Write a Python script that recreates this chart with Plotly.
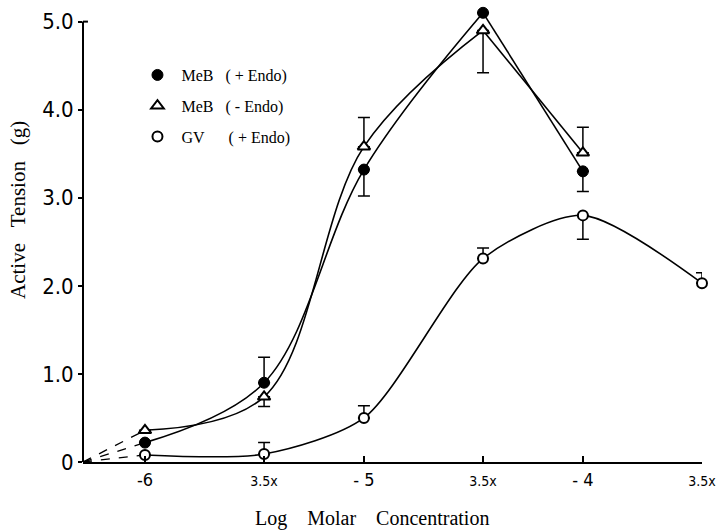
import plotly.graph_objects as go

# ---- data (log molar concentration) ----
x_vals = [-6.0, -5.456, -5.0, -4.456, -4.0, -3.456]
tick_text = ["-6", "<span style='font-size:14px'>3.5x</span>", "- 5",
             "<span style='font-size:14px'>3.5x</span>", "- 4",
             "<span style='font-size:14px'>3.5x</span>"]

meb_endo_pos = [0.22, 0.90, 3.32, 5.10, 3.30]
meb_endo_pos_up = [0, 0.29, 0, 0, 0]
meb_endo_pos_dn = [0, 0, 0.30, 0, 0.23]

meb_endo_neg = [0.36, 0.74, 3.58, 4.90, 3.51]
meb_endo_neg_up = [0, 0, 0.33, 0, 0.29]
meb_endo_neg_dn = [0, 0.11, 0, 0.48, 0]

gv_endo_pos = [0.08, 0.09, 0.50, 2.31, 2.80, 2.03]
gv_endo_pos_up = [0, 0.13, 0.14, 0.12, 0, 0.12]
gv_endo_pos_dn = [0, 0, 0, 0, 0.27, 0]

origin_x = -6.283
origin_y = 0.0

S = "\u00a0"
names = [S + "MeB" + S * 3 + "(" + S + "+" + S + "Endo)",
         S + "MeB" + S * 3 + "(" + S + "-" + S + "Endo)",
         S + "GV" + S * 6 + "(" + S + "+" + S + "Endo)"]

fig = go.Figure()
LW = 1.6

# dashed lines from origin
for ys in (meb_endo_pos, meb_endo_neg, gv_endo_pos):
    fig.add_trace(go.Scatter(x=[origin_x, x_vals[0]], y=[origin_y, ys[0]], mode="lines",
                             line=dict(color="black", width=1.3, dash="dash"),
                             showlegend=False, hoverinfo="skip"))

# smooth curves (cusp at peak for MeB series)
for ys in (meb_endo_pos, meb_endo_neg):
    fig.add_trace(go.Scatter(x=x_vals[:4], y=ys[:4], mode="lines",
                             line=dict(color="black", width=LW, shape="spline", smoothing=1.0),
                             showlegend=False, hoverinfo="skip"))
    fig.add_trace(go.Scatter(x=x_vals[3:5], y=ys[3:5], mode="lines",
                             line=dict(color="black", width=LW),
                             showlegend=False, hoverinfo="skip"))
fig.add_trace(go.Scatter(x=x_vals, y=gv_endo_pos, mode="lines",
                         line=dict(color="black", width=LW, shape="spline", smoothing=0.75),
                         showlegend=False, hoverinfo="skip"))

def eb(up, dn):
    return dict(type="data", symmetric=False, array=up, arrayminus=dn,
                color="black", thickness=1.5, width=6)

fig.add_trace(go.Scatter(x=x_vals[:5], y=meb_endo_pos, mode="markers", name=names[0],
                         legendgroup="a", cliponaxis=False,
                         marker=dict(symbol="circle", size=11, color="black",
                                     line=dict(color="black", width=1)),
                         error_y=eb(meb_endo_pos_up, meb_endo_pos_dn)))
fig.add_trace(go.Scatter(x=x_vals[:5], y=meb_endo_neg, mode="markers", name=names[1],
                         legendgroup="b", cliponaxis=False,
                         marker=dict(symbol="triangle-up", size=11, color="white",
                                     line=dict(color="black", width=2)),
                         error_y=eb(meb_endo_neg_up, meb_endo_neg_dn)))
fig.add_trace(go.Scatter(x=x_vals, y=gv_endo_pos, mode="markers", name=names[2],
                         legendgroup="c", cliponaxis=False,
                         marker=dict(symbol="circle", size=10, color="white",
                                     line=dict(color="black", width=2)),
                         error_y=eb(gv_endo_pos_up, gv_endo_pos_dn)))

tick_font = dict(family="DejaVu Sans Condensed", size=22, color="black")

fig.update_layout(
    width=725, height=532,
    margin=dict(l=83, r=23, t=4, b=70, autoexpand=False),
    paper_bgcolor="white", plot_bgcolor="white",
    showlegend=True,
    legend=dict(x=0.088, y=0.882, xanchor="left", yanchor="top",
                traceorder="grouped", tracegroupgap=7,
                font=dict(family="Liberation Serif", size=16, color="black"),
                bgcolor="rgba(0,0,0,0)"),
    xaxis=dict(range=[origin_x, -3.456], tickvals=x_vals, ticktext=tick_text,
               automargin=False,
               showgrid=False, zeroline=False, showline=True, linecolor="black",
               linewidth=2, ticks="inside", ticklen=6, tickwidth=1.5, tickcolor="black",
               tickfont=dict(family="DejaVu Sans Condensed", size=18, color="black")),
    yaxis=dict(range=[0, 5.2], tickvals=[0, 1, 2, 3, 4, 5],
               ticktext=["0", "1.0", "2.0", "3.0", "4.0", "5.0"],
               automargin=False,
               showgrid=False, zeroline=False, showline=False,
               ticks="outside", ticklen=4, tickwidth=1.5, tickcolor="black",
               tickfont=tick_font),
    shapes=[
        dict(type="line", xref="paper", yref="y", x0=0, x1=0, y0=0, y1=5.0,
             line=dict(color="black", width=2)),
        dict(type="line", xref="paper", yref="y", x0=0, x1=0.008, y0=5.0, y1=5.0,
             line=dict(color="black", width=2)),
    ],
    annotations=[
        dict(text="Log" + S * 4 + "Molar" + S * 4 + "Concentration", xref="paper", yref="paper",
             x=(372 - 83) / 619, y=-(518 - 462) / 458, xanchor="center", yanchor="middle",
             showarrow=False, font=dict(family="Liberation Serif", size=20, color="black")),
        dict(text="Active" + S * 3 + "Tension" + S * 3 + "(g)", xref="paper", yref="paper",
             x=(18 - 83) / 619, y=(462 - 210) / 458, xanchor="center", yanchor="middle",
             textangle=-90, showarrow=False,
             font=dict(family="Liberation Serif", size=21, color="black")),
    ],
)

fig.write_html("out.html", config={"displayModeBar": False},
               post_script="document.body.style.margin='0';document.body.style.padding='0';")
